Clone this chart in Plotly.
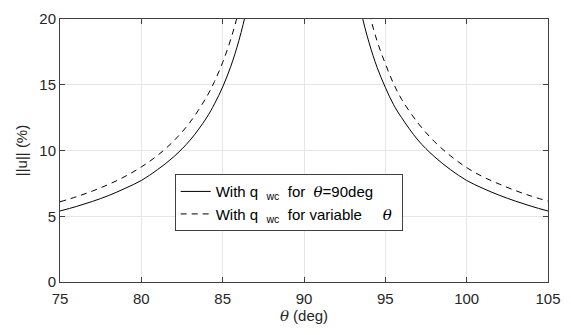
import plotly.graph_objects as go

# theta (deg) sample points
theta_left = [75, 76, 77, 78, 79, 80, 81, 82, 83, 84, 84.5, 85, 85.5, 86, 86.5, 87]
theta_right = [93, 93.5, 94, 94.5, 95, 95.5, 96, 97, 98, 99, 100, 101, 102, 103, 104, 105]

# ||u|| (%) for q_wc with theta = 90 deg (solid)
u_fixed_left = [5.40, 5.74, 6.13, 6.58, 7.12, 7.72, 8.55, 9.53, 10.79, 12.47, 13.55, 14.83, 16.40, 18.37, 20.9, 24.3]
u_fixed_right = [24.0, 20.6, 18.2, 16.3, 14.8, 13.5, 12.5, 10.8, 9.55, 8.55, 7.72, 7.12, 6.60, 6.15, 5.75, 5.40]

# ||u|| (%) for q_wc with variable theta (dashed)
u_var_left = [6.10, 6.48, 6.92, 7.43, 8.03, 8.75, 9.63, 10.74, 12.16, 14.05, 15.25, 16.70, 18.47, 20.68, 23.5, 27.3]
u_var_right = [27.0, 23.3, 20.5, 18.3, 16.6, 15.1, 13.9, 12.1, 10.7, 9.60, 8.70, 8.00, 7.45, 6.95, 6.52, 6.15]

x_ticks = [75, 80, 85, 90, 95, 100, 105]
y_ticks = [0, 5, 10, 15, 20]

FONT = "Liberation Sans, Arial, sans-serif"
TH = "<span style=\"font-family:'DejaVu Serif','Liberation Serif',serif\"><i>θ</i></span>"
AX = "#404040"
FS = 15

fig = go.Figure()
sub = "<sub>wc</sub>"
fig.add_trace(go.Scatter(x=theta_left + [None] + theta_right,
                         y=u_fixed_left + [None] + u_fixed_right,
                         mode="lines", line=dict(color="black", width=1, shape="spline"),
                         connectgaps=False,
                         name=f"With q  {sub}  for  {TH}=90deg"))
fig.add_trace(go.Scatter(x=theta_left + [None] + theta_right,
                         y=u_var_left + [None] + u_var_right,
                         mode="lines", line=dict(color="black", width=1, dash="6px,5px", shape="spline"),
                         connectgaps=False,
                         name=f"With q  {sub}  for variable     {TH} "))

axis_common = dict(showgrid=True, gridcolor="#e6e6e6", gridwidth=1,
                   showline=True, linecolor=AX, linewidth=1, mirror="ticks",
                   ticks="inside", ticklen=5, tickcolor=AX,
                   tickfont=dict(family=FONT, size=FS, color="#262626"),
                   zeroline=False)

fig.update_layout(
    width=571, height=335,
    margin=dict(l=60, r=19, t=10, b=53),
    paper_bgcolor="white", plot_bgcolor="white",
    font=dict(family=FONT, size=FS, color="#262626"),
    xaxis=dict(range=[75, 105], tickvals=x_ticks, ticklabelstandoff=3,
               title=dict(text=f"{TH} (deg)", font=dict(family=FONT, size=FS), standoff=0),
               **axis_common),
    yaxis=dict(range=[0, 20], tickvals=y_ticks,
               title=dict(text="||u|| (%)", font=dict(family=FONT, size=FS), standoff=8),
               **axis_common),
    legend=dict(x=0.235, y=0.41, xanchor="left", yanchor="top",
                bgcolor="white", bordercolor=AX, borderwidth=1,
                font=dict(family=FONT, size=FS, color="black"),
                tracegroupgap=0, itemwidth=30),
    showlegend=True,
)

fig.write_html("out.html")
